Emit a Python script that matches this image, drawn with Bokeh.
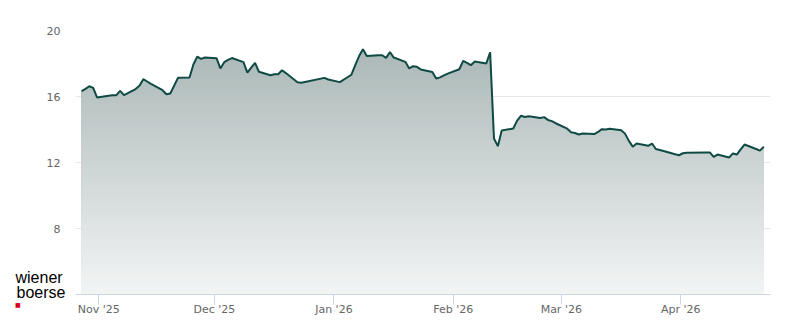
import numpy as np
import pandas as pd
from bokeh.plotting import figure
from bokeh.models import Range1d, FixedTicker, Label
from bokeh.embed import file_html
from bokeh.resources import INLINE

# ---- data ----
dates = [
    "2025-10-27", "2025-10-28", "2025-10-29", "2025-10-30", "2025-10-31",
    "2025-11-03", "2025-11-04", "2025-11-05", "2025-11-06", "2025-11-07",
    "2025-11-10", "2025-11-11", "2025-11-12", "2025-11-13", "2025-11-14",
    "2025-11-17", "2025-11-18", "2025-11-19", "2025-11-20", "2025-11-21",
    "2025-11-24", "2025-11-25", "2025-11-26", "2025-11-27", "2025-11-28",
    "2025-12-01", "2025-12-02", "2025-12-03", "2025-12-04", "2025-12-05",
    "2025-12-08", "2025-12-09", "2025-12-10", "2025-12-11", "2025-12-12",
    "2025-12-15", "2025-12-16", "2025-12-17", "2025-12-18", "2025-12-19",
    "2025-12-22", "2025-12-23", "2025-12-29", "2025-12-30",
    "2026-01-02", "2026-01-05", "2026-01-06", "2026-01-07", "2026-01-08", "2026-01-09",
    "2026-01-12", "2026-01-13", "2026-01-14", "2026-01-15", "2026-01-16",
    "2026-01-19", "2026-01-20", "2026-01-21", "2026-01-22", "2026-01-23",
    "2026-01-26", "2026-01-27", "2026-01-28", "2026-01-29", "2026-01-30",
    "2026-02-02", "2026-02-03", "2026-02-04", "2026-02-05", "2026-02-06",
    "2026-02-09", "2026-02-10", "2026-02-11", "2026-02-12", "2026-02-13",
    "2026-02-16", "2026-02-17", "2026-02-18", "2026-02-19", "2026-02-20",
    "2026-02-23", "2026-02-24", "2026-02-25", "2026-02-26", "2026-02-27",
    "2026-03-02", "2026-03-03", "2026-03-04", "2026-03-05", "2026-03-06",
    "2026-03-09", "2026-03-10", "2026-03-11", "2026-03-12", "2026-03-13",
    "2026-03-16", "2026-03-17", "2026-03-18", "2026-03-19", "2026-03-20",
    "2026-03-23", "2026-03-24", "2026-03-25", "2026-03-26", "2026-03-27",
    "2026-03-30", "2026-03-31", "2026-04-01", "2026-04-02",
    "2026-04-07", "2026-04-08", "2026-04-09", "2026-04-10",
    "2026-04-13", "2026-04-14", "2026-04-15", "2026-04-16", "2026-04-17",
    "2026-04-20", "2026-04-21", "2026-04-22",
]
close = [
    16.32, 16.46, 16.62, 16.52, 15.94,
    16.05, 16.08, 16.08, 16.34, 16.08,
    16.45, 16.65, 17.05, 16.91, 16.77,
    16.38, 16.14, 16.18, 16.65, 17.13,
    17.15, 17.94, 18.42, 18.28, 18.36,
    18.32, 17.70, 18.08, 18.22, 18.33,
    18.08, 17.45, 17.75, 18.04, 17.50,
    17.29, 17.35, 17.35, 17.59, 17.42,
    16.86, 16.83, 17.13, 17.03,
    16.87, 17.32, 17.90, 18.45, 18.87, 18.46,
    18.50, 18.50, 18.34, 18.70, 18.36,
    18.10, 17.70, 17.84, 17.80, 17.64,
    17.49, 17.09, 17.16, 17.28, 17.39,
    17.65, 18.16, 18.04, 17.90, 18.12,
    18.00, 18.68, 13.45, 12.99, 13.94,
    14.06, 14.54, 14.83, 14.76, 14.80,
    14.70, 14.75, 14.58, 14.51, 14.38,
    14.05, 13.83, 13.79, 13.70, 13.76,
    13.72, 13.85, 14.02, 14.00, 14.04,
    13.96, 13.75, 13.31, 12.96, 13.15,
    13.01, 13.15, 12.82, 12.76, 12.70,
    12.50, 12.44, 12.56, 12.59,
    12.61, 12.61, 12.34, 12.48,
    12.30, 12.55, 12.48, 12.80, 13.09,
    12.82, 12.72, 12.95,
]
y_ticks = [8, 12, 16, 20]
x_tick_dates = ["2025-11-01", "2025-12-01", "2026-01-01", "2026-02-01", "2026-03-01", "2026-04-01"]
x_tick_labels = ["Nov '25", "Dec '25", "Jan '26", "Feb '26", "Mar '26", "Apr '26"]
logo_lines = ["wiener", "boerse"]

# ---- build ----
t = pd.to_datetime(dates) + pd.Timedelta(hours=13)
price = np.array(close, dtype=float)

W, H = 800, 324
FL, FR = 75, 770          # frame left / right in px
FT, FB = 30, 294          # frame top / bottom in px
PX_PER_DAY = 3.854
NOV1_PX = 98.3
W_LAB = 50                # approx. width of the side-panel logo label
LOGO_BASE1, LOGO_BASE2 = 277.2, 292.2   # baselines of the two logo words (px from top)
nov1 = pd.Timestamp("2025-11-01")
x_start = nov1 - pd.Timedelta(days=(NOV1_PX - FL) / PX_PER_DAY)
x_end = nov1 + pd.Timedelta(days=(FR - NOV1_PX) / PX_PER_DAY)

p = figure(width=W, height=H, x_axis_type="datetime", title=None,
           x_range=Range1d(x_start, x_end), y_range=Range1d(4, 20),
           output_backend="svg", toolbar_location=None,
           min_border_left=FL, min_border_right=W - FR,
           min_border_top=FT, min_border_bottom=H - FB)
p.outline_line_color = None
p.background_fill_color = "white"
p.border_fill_color = "white"

# vertical gradient fill built from stacked areas
lo_c = np.array([243, 245, 245], dtype=float)
hi_c = np.array([166, 180, 179], dtype=float)


def col(v):
    f = (v - 4.0) / 16.0
    c = lo_c + (hi_c - lo_c) * f
    return "#%02x%02x%02x" % tuple(int(round(x)) for x in c)


top = float(price.max()) + 0.2
levels = np.linspace(4.0, top, 80)
p.varea(x=t, y1=4, y2=price, fill_color=col(top), fill_alpha=1)
for lv in levels[::-1][1:-1]:
    p.varea(x=t, y1=4, y2=np.minimum(price, lv), fill_color=col(lv), fill_alpha=1)

p.line(t, price, line_color="#0f4a44", line_width=2)

# axes
tick_ms = [int(pd.Timestamp(d).value // 10**6) for d in x_tick_dates]
p.xaxis.ticker = FixedTicker(ticks=tick_ms)
p.xaxis.major_label_overrides = {ms: lab for ms, lab in zip(tick_ms, x_tick_labels)}
p.xaxis.axis_line_color = "#ccd6eb"
p.xaxis.major_tick_line_color = "#ccd6eb"
p.xaxis.major_tick_out = 10
p.xaxis.major_tick_in = 0
p.xaxis.minor_tick_line_color = None
p.xaxis.major_label_standoff = -2
p.xaxis.major_label_text_font = "DejaVu Sans"
p.xaxis.major_label_text_font_size = "11px"
p.xaxis.major_label_text_color = "#666666"

p.yaxis.ticker = FixedTicker(ticks=y_ticks)
p.yaxis.axis_line_color = None
p.yaxis.major_tick_line_color = None
p.yaxis.minor_tick_line_color = None
p.yaxis.major_tick_out = 0
p.yaxis.major_tick_in = 0
p.yaxis.major_label_standoff = 16 - W_LAB
p.yaxis.major_label_text_font = "DejaVu Sans"
p.yaxis.major_label_text_font_size = "11px"
p.yaxis.major_label_text_color = "#666666"

p.xgrid.visible = False
p.ygrid.ticker = FixedTicker(ticks=y_ticks)
p.ygrid.grid_line_color = "#e6e6e6"
p.ygrid.grid_line_width = 1

# logo: side-panel labels (not clipped to the frame)
lab1 = Label(x=15 - FL, y=FT - LOGO_BASE1, x_units="screen", y_units="screen", text=logo_lines[0],
             text_font="Liberation Sans", text_font_size="16px",
             text_color="#000000", text_baseline="alphabetic", text_align="left")
lab2 = Label(x=15 - (FL - W_LAB), y=FB - LOGO_BASE2, x_units="screen", y_units="screen",
             text=logo_lines[1],
             text_font="Liberation Sans", text_font_size="16px",
             text_color="#000000", text_baseline="alphabetic", text_align="left")
sq = Label(x=14.5 - FR, y=FB - 304, x_units="screen", y_units="screen", text="\u25a0",
           text_font="DejaVu Sans", text_font_size="6px", text_color="#d6001c",
           text_align="left", text_baseline="middle")
p.add_layout(lab1, "above")
p.left = [lab2] + list(p.left)       # logo label next to the frame, y axis outside it
p.add_layout(sq, "right")

open("out.html", "w").write(file_html(p, INLINE))
